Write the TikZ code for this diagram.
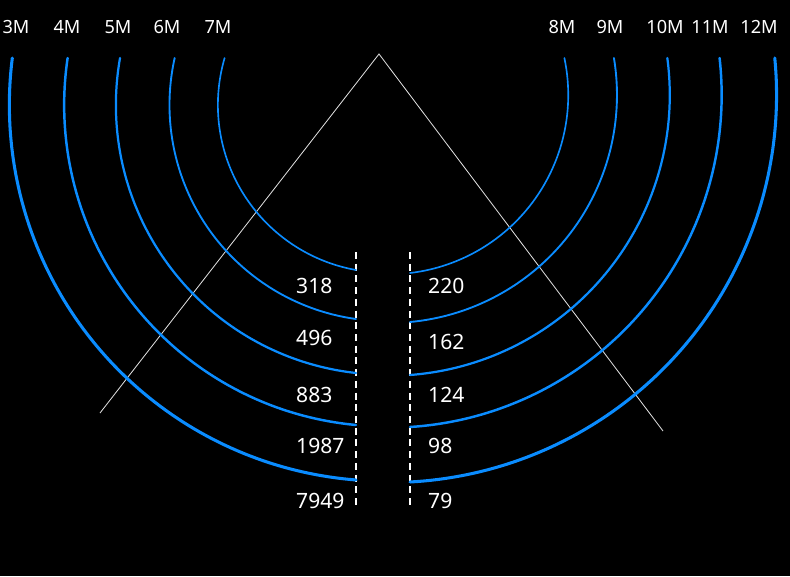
\documentclass[tikz,border=0pt]{standalone}
\usepackage{fontspec}
\setmainfont{Noto Sans}
\usepackage{tikz}
\definecolor{ringblue}{RGB}{10,140,255}
\definecolor{sightline}{RGB}{225,225,225}

\begin{document}
\begin{tikzpicture}[x=0.03cm, y=-0.03cm,
        numlabel/.style={text=white, inner sep=0pt, anchor=base west, font=\fontsize{18}{18}\selectfont},
        meterlabel/.style={text=white, inner sep=0pt, anchor=base, font=\fontsize{15.5}{15.5}\selectfont},
        ring/.style={ringblue, line cap=round}]
        \fill[black] (0,0) rectangle (790,576);
        \useasboundingbox (0,0) rectangle (790,576);

        % field of view
        \coordinate (apex) at (379,54);
        \coordinate (footL) at (100,413);
        \coordinate (footR) at (663,431);
        \draw[sightline, line width=0.7pt] (footL) -- (apex) -- (footR);

        % gap in the middle
        \coordinate (gapLtop) at (356,252);
        \coordinate (gapLbot) at (356,508);
        \coordinate (gapRtop) at (410,252);
        \coordinate (gapRbot) at (410,508);
        \draw[white, line width=0.9pt, dash pattern=on 6pt off 4pt] (gapLtop) -- (gapLbot);
        \draw[white, line width=0.9pt, dash pattern=on 6pt off 4pt] (gapRtop) -- (gapRbot);

        % left rings, 7M to 3M
        \foreach \ye/\w/\lab/\xl in {270/1.4/7M/218, 319/1.6/6M/167, 373/1.9/5M/118, 425/2.1/4M/67, 480/2.6/3M/16} {
            \pgfmathsetmacro\r{10*sqrt(2.95^2+((\ye-105)/10)^2)}
            \pgfmathsetmacro\ta{acos(-29.5/\r)}
            \pgfmathsetmacro\tb{180+asin(47/\r)}
            \draw[ring, line width=\w pt, domain=\ta:\tb, samples=90] plot ({385.5+\r*cos(\x)}, {105+\r*sin(\x)});
            \node[meterlabel] (m\lab) at (\xl,33) {\lab};
        }

        % right rings, 8M to 12M
        \foreach \ye/\w/\lab/\xl in {273/1.4/8M/562, 322/1.6/9M/610, 375/1.9/10M/665, 427/2.1/11M/710, 482/2.6/12M/759} {
            \pgfmathsetmacro\r{10*sqrt(2.1^2+((\ye-95)/10)^2)}
            \pgfmathsetmacro\ta{-asin(37/\r)}
            \pgfmathsetmacro\tb{acos(21/\r)}
            \draw[ring, line width=\w pt, domain=\ta:\tb, samples=90] plot ({389+\r*cos(\x)}, {95+\r*sin(\x)});
            \node[meterlabel] (m\lab) at (\xl,33) {\lab};
        }

        % counts
        \foreach \n/\y in {318/293, 496/345, 883/402, 1987/453, 7949/508}
            \node[numlabel] (cl\n) at (296,\y) {\n};
        \foreach \n/\y in {220/293, 162/349, 124/402, 98/453, 79/508}
            \node[numlabel] (cr\n) at (428,\y) {\n};
    \end{tikzpicture}
\end{document}
